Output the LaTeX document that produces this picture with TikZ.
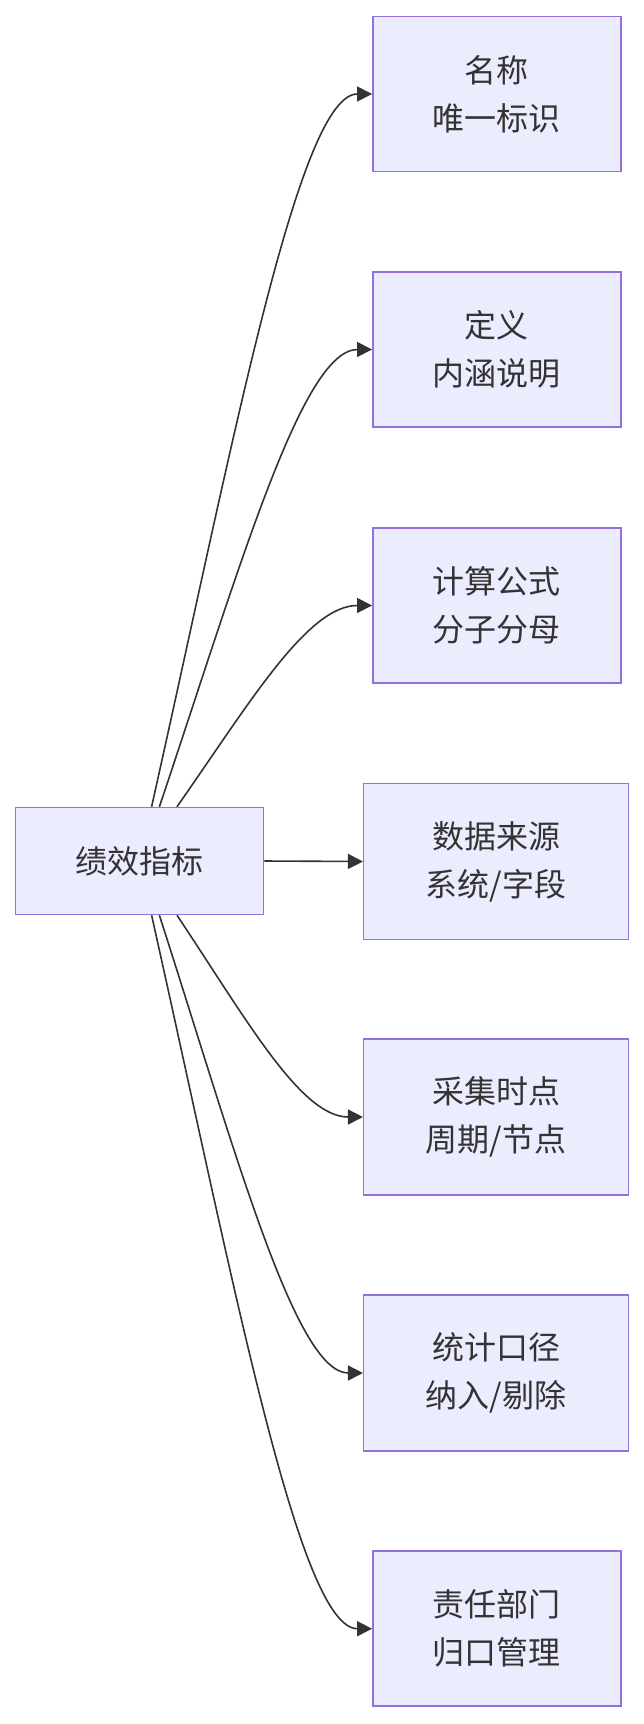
\documentclass[tikz,border=0pt]{standalone}
\usepackage{fontspec}
\newfontfamily\cjk{Noto Sans CJK SC}
\usetikzlibrary{arrows.meta}
\definecolor{boxfill}{HTML}{ECECFF}
\definecolor{boxdraw}{HTML}{9370DB}
\definecolor{ink}{HTML}{333333}
\tikzset{
  box/.style={draw=boxdraw, fill=boxfill, line width=1.5pt, inner sep=0pt,
    minimum width=248pt, minimum height=155pt, align=center, text=ink,
    font=\cjk\fontsize{32}{48}\selectfont},
  widebox/.style={box, minimum width=265pt, minimum height=156pt},
  link/.style={draw=ink, line width=1.6pt, -{Triangle[length=15pt,width=15pt]}}
}
\begin{document}
\begin{tikzpicture}[x=1pt,y=-1pt]
\useasboundingbox (0,0) rectangle (644,1724);
\node[box, minimum height=107pt] (c) at (139.6,861) {绩效指标};
\node[box] (n1) at (496.8,94) {名称\\唯一标识};
\node[box] (n2) at (496.8,349.5) {定义\\内涵说明};
\node[box] (n3) at (496.8,605.5) {计算公式\\分子分母};
\node[widebox] (n4) at (496.2,861.5) {数据来源\\系统/字段};
\node[widebox] (n5) at (496.2,1117) {采集时点\\周期/节点};
\node[widebox] (n6) at (496.2,1373) {统计口径\\纳入/剔除};
\node[box] (n7) at (496.8,1628.7) {责任部门\\归口管理};
\path[link] ([xshift=12pt]c.north) .. controls +(83,-371) and +(-73,0) .. (n1.west);
\path[link] ([xshift=19.8pt]c.north) .. controls +(80,-238) and +(-70,0) .. (n2.west);
\path[link] ([xshift=37.4pt]c.north) .. controls +(73.4,-105) and +(-64.5,0) .. (n3.west);
\path[link] (c.east) -- (n4.west);
\path[link] ([xshift=37.4pt]c.south) .. controls +(70,105) and +(-62,0) .. (n5.west);
\path[link] ([xshift=19.8pt]c.south) .. controls +(76.7,238.5) and +(-67.5,0) .. (n6.west);
\path[link] ([xshift=12pt]c.south) .. controls +(83,371) and +(-73,0) .. (n7.west);
\end{tikzpicture}
\end{document}
